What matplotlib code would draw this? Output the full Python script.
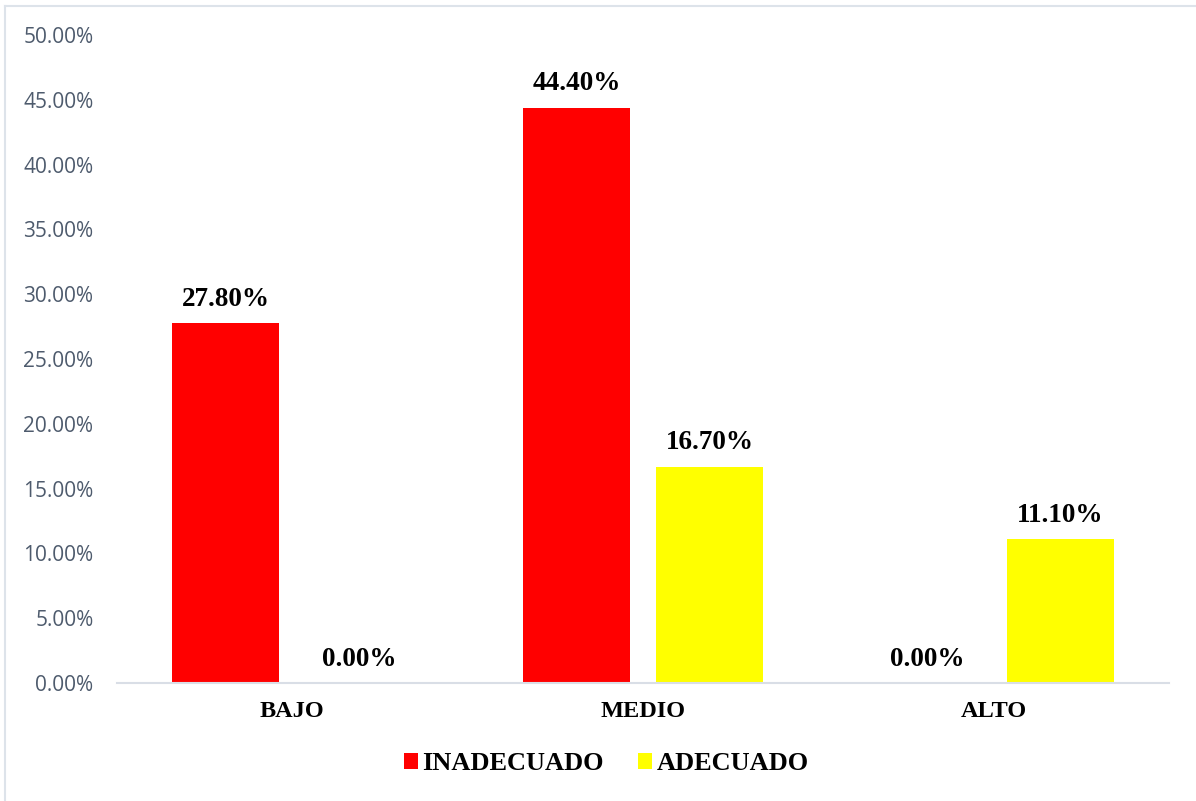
import numpy as np
import matplotlib.pyplot as plt
from matplotlib.patches import Patch
from matplotlib.lines import Line2D
from matplotlib.ticker import FuncFormatter

categorias = ['BAJO', 'MEDIO', 'ALTO']
inadecuado = [27.8, 44.4, 0.0]
adecuado = [0.0, 16.7, 11.1]
series = ['INADECUADO', 'ADECUADO']
colores = ['#ff0000', '#ffff00']

serif = 'Liberation Serif'

fig = plt.figure(figsize=(11.96, 8.01), dpi=100)
ax = fig.add_axes([117/1196, 1 - 683/801, (1169 - 117)/1196, (683 - 35)/801])

x = np.arange(len(categorias))
ancho = 0.306
desp = 0.19

for valores, col, d in [(inadecuado, colores[0], -desp), (adecuado, colores[1], desp)]:
    barras = ax.bar(x + d, valores, width=ancho, color=col, zorder=2)
    for b, v in zip(barras, valores):
        ax.annotate(f'{v:.2f}%', (b.get_x() + b.get_width()/2, v),
                    xytext=(0, 8), textcoords='offset points',
                    ha='center', va='bottom', fontsize=19.5, fontweight='bold',
                    family=serif, color='black')

ax.set_xlim(-0.5, 2.5)
ax.set_ylim(0, 50)
ax.set_yticks(np.arange(0, 50.1, 5))
ax.yaxis.set_major_formatter(FuncFormatter(lambda v, p: f'{v:.2f}%'))
ax.set_xticks(x)
ax.set_xticklabels(categorias, fontsize=17.5, fontweight='bold', family=serif)

for s in ['top', 'right', 'left']:
    ax.spines[s].set_visible(False)
ax.spines['bottom'].set_color('#d9dee6')
ax.spines['bottom'].set_linewidth(1.5)
ax.spines['bottom'].set_zorder(3)

ax.tick_params(axis='y', length=0, pad=17, labelsize=15, labelcolor='#4e5b6d')
ax.tick_params(axis='x', length=0, pad=13)
for t in ax.get_yticklabels():
    t.set_family('Open Sans')

handles = [Patch(facecolor=c, edgecolor='none') for c in colores]
fig.legend(handles, series, loc='center', bbox_to_anchor=(606/1196, 1 - 764/801),
           ncol=2, frameon=False, handlelength=0.55, handleheight=0.55,
           handletextpad=0.15, columnspacing=1.3,
           prop={'family': serif, 'weight': 'bold', 'size': 19})

# borde claro del grafico
fig.add_artist(Line2D([5/1196, 5/1196], [0, 1 - 6/801], color='#dde3ea', lw=1.5))
fig.add_artist(Line2D([5/1196, 1], [1 - 6/801, 1 - 6/801], color='#dde3ea', lw=1.5))

fig.savefig('out.png', dpi=100)
